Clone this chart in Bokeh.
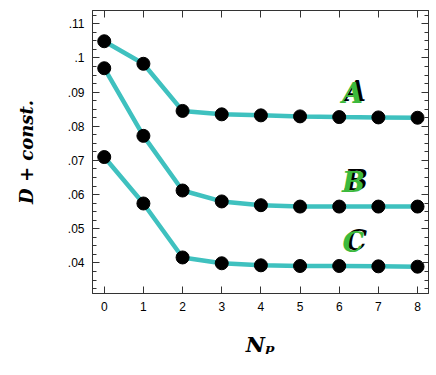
from bokeh.plotting import figure
from bokeh.models import (Range1d, FixedTicker, LinearAxis, CustomJSTickFormatter,
                          ColumnDataSource)
from bokeh.core.properties import value
from bokeh.embed import file_html
from bokeh.resources import INLINE

np_vals = [0, 1, 2, 3, 4, 5, 6, 7, 8]
series_A = [0.1049, 0.0983, 0.0845, 0.0835, 0.0832, 0.0829, 0.0827, 0.0826, 0.0825]
series_B = [0.0970, 0.0772, 0.0612, 0.0580, 0.0569, 0.0565, 0.0565, 0.0565, 0.0565]
series_C = [0.0710, 0.0574, 0.0416, 0.0399, 0.0393, 0.0391, 0.0391, 0.0390, 0.0389]
curve_names = ["A", "B", "C"]
label_x = [6.34, 6.36, 6.36]
label_y = [0.0897, 0.0636, 0.0459]
y_ticks = [0.04, 0.05, 0.06, 0.07, 0.08, 0.09, 0.10, 0.11]
y_minor = [0.0325 + 0.0025 * i for i in range(33)]
x_ticks = [0, 1, 2, 3, 4, 5, 6, 7, 8]

LINE = "#3fc1bf"
GREEN = "#3cb93c"
DARK = "#333333"

p = figure(width=430, height=359, output_backend="svg", toolbar_location=None,
           x_range=Range1d(-0.3, 8.28), y_range=Range1d(0.03105, 0.1139),
           min_border_left=92, min_border_right=2, min_border_top=10,
           min_border_bottom=65)
p.grid.visible = False
p.outline_line_color = DARK
p.background_fill_color = "white"
p.border_fill_color = "white"

fmt = CustomJSTickFormatter(code="""
let s = tick.toFixed(2);
s = s.replace(/0+$/, '');
if (s.startsWith('0')) s = s.slice(1);
return s;
""")
blank = CustomJSTickFormatter(code="return '';")

def style_axis(ax):
    ax.axis_line_color = DARK
    ax.major_tick_line_color = DARK
    ax.minor_tick_line_color = DARK
    ax.major_tick_in = 7
    ax.major_tick_out = 0
    ax.minor_tick_in = 4
    ax.minor_tick_out = 0
    ax.major_label_text_font = "Liberation Sans"
    ax.major_label_text_font_size = "12px"
    ax.major_label_text_color = "black"

p.xaxis.ticker = FixedTicker(ticks=x_ticks, minor_ticks=[])
p.yaxis.ticker = FixedTicker(ticks=y_ticks, minor_ticks=y_minor)
p.yaxis.formatter = fmt
p.xaxis.major_label_standoff = 8
p.yaxis.major_label_standoff = 8
style_axis(p.xaxis[0])
style_axis(p.yaxis[0])

p.yaxis.axis_label = "D + const."
p.yaxis.axis_label_text_font = "DejaVu Serif"
p.yaxis.axis_label_text_font_style = "bold italic"
p.yaxis.axis_label_text_font_size = "18px"
p.yaxis.axis_label_text_color = "black"
p.yaxis.axis_label_standoff = 28

p.xaxis.axis_label = "N\u209a"
p.xaxis.axis_label_text_font = "DejaVu Serif"
p.xaxis.axis_label_text_font_style = "bold italic"
p.xaxis.axis_label_text_font_size = "21px"
p.xaxis.axis_label_text_color = "black"
p.xaxis.axis_label_standoff = 18

top = LinearAxis(ticker=FixedTicker(ticks=x_ticks, minor_ticks=[]), formatter=blank,
                 major_label_standoff=0)
style_axis(top)
p.add_layout(top, "above")
right = LinearAxis(ticker=FixedTicker(ticks=y_ticks, minor_ticks=y_minor), formatter=blank,
                   major_label_standoff=0)
style_axis(right)
p.add_layout(right, "right")

for ys in (series_A, series_B, series_C):
    src = ColumnDataSource(dict(x=np_vals, y=ys))
    p.line("x", "y", source=src, line_color=LINE, line_width=4.5)
    p.scatter("x", "y", source=src, size=13, fill_color="black", line_color="black")

lab_src = ColumnDataSource(dict(x=label_x, y=label_y, t=curve_names))
p.text("x", "y", text="t", source=lab_src, text_font=value("DejaVu Serif"),
       text_font_style="bold italic", text_font_size="27px", text_color="black",
       text_align="center", text_baseline="middle", x_offset=3, y_offset=-2)
p.text("x", "y", text="t", source=lab_src, text_font=value("DejaVu Serif"),
       text_font_style="bold italic", text_font_size="27px", text_color=GREEN,
       text_align="center", text_baseline="middle")

open("out.html", "w").write(file_html(p, INLINE))
